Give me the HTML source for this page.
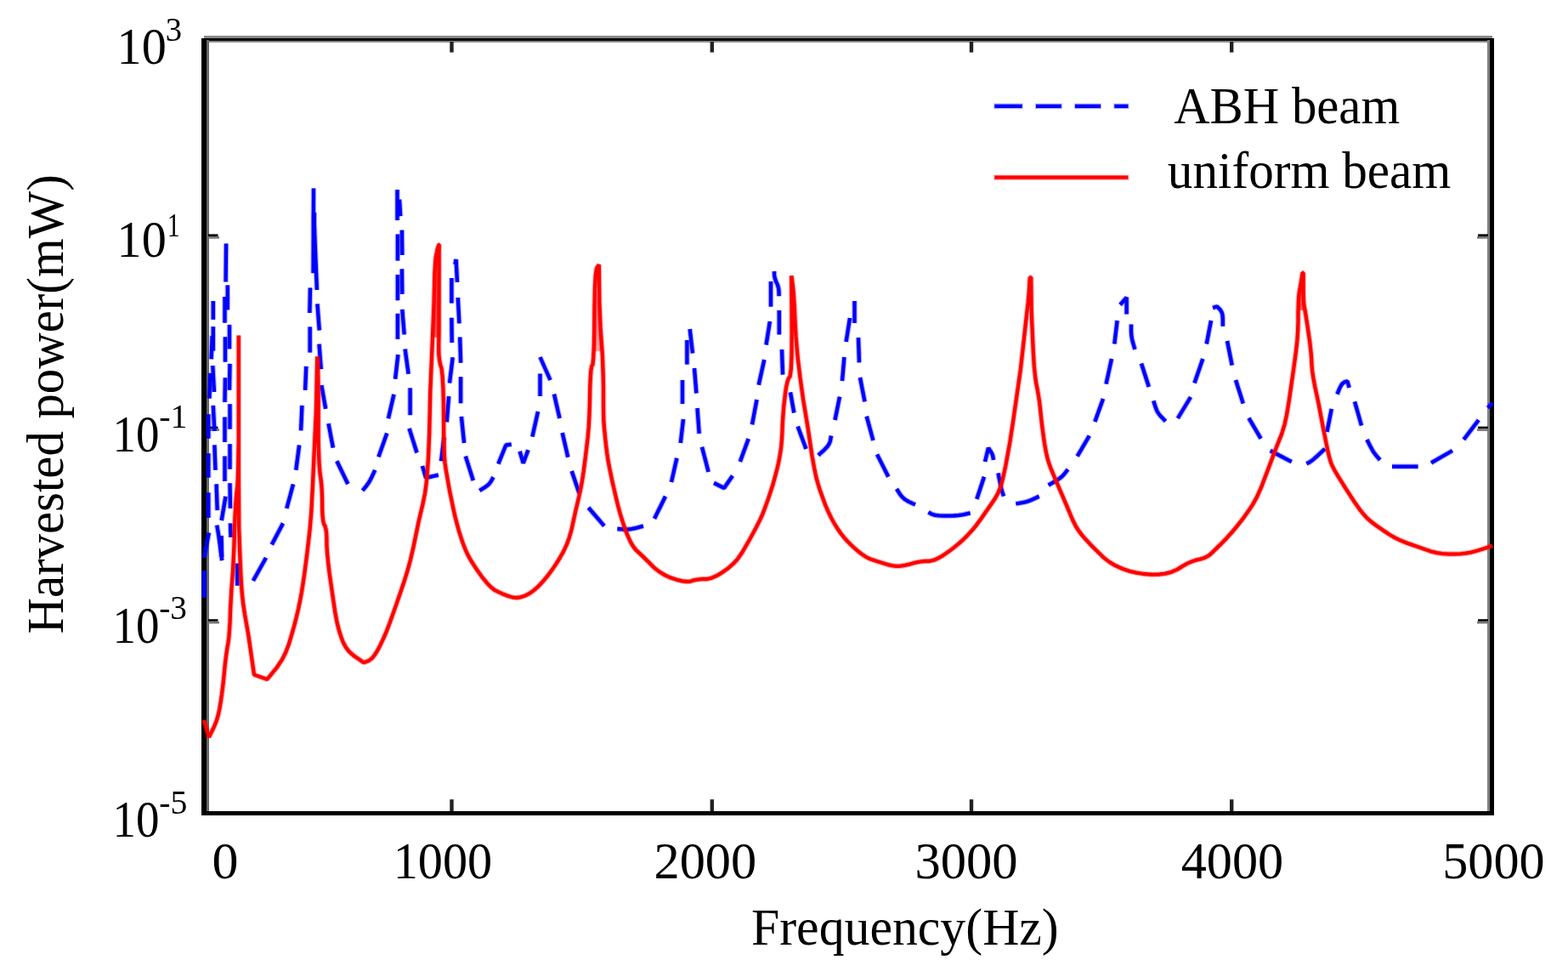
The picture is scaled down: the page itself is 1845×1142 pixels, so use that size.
<!DOCTYPE html>
<html lang="en">
<head>
<meta charset="utf-8">
<title>Harvested power vs frequency</title>
<style>
html,body{margin:0;padding:0;background:#fff;}
body{width:1845px;height:1142px;overflow:hidden;}
svg{display:block;}
</style>
</head>
<body>
<svg width="1845" height="1142" viewBox="0 0 1845 1142">
<rect x="0" y="0" width="1845" height="1142" fill="#fff"/>
<g shape-rendering="crispEdges">
<rect x="240" y="41.8" width="1516" height="8.1" fill="#8a8a8a"/>
<rect x="237.1" y="45.1" width="1521.1" height="2.4" fill="#000"/>
<rect x="1750.1" y="47" width="3" height="907" fill="#808080"/>
<rect x="1753" y="45.1" width="5.2" height="913.8" fill="#000"/>
<rect x="243" y="47" width="2.6" height="907" fill="#666"/>
<rect x="237.1" y="45.1" width="5.9" height="913.8" fill="#000"/>
<rect x="237.1" y="953.7" width="1521.1" height="5.2" fill="#000"/>
</g>
<rect x="529.3" y="940.2" width="4.4" height="14" fill="#222"/>
<rect x="529.3" y="49" width="4.4" height="12.6" fill="#222"/>
<rect x="835.6" y="940.2" width="4.4" height="14" fill="#222"/>
<rect x="835.6" y="49" width="4.4" height="12.6" fill="#222"/>
<rect x="1140.8" y="940.2" width="4.4" height="14" fill="#222"/>
<rect x="1140.8" y="49" width="4.4" height="12.6" fill="#222"/>
<rect x="1447.0" y="940.2" width="4.4" height="14" fill="#222"/>
<rect x="1447.0" y="49" width="4.4" height="12.6" fill="#222"/>
<rect x="245" y="275.4" width="11.5" height="2.6" fill="#000"/>
<rect x="245" y="278.0" width="13" height="2.7" fill="#777"/>
<rect x="1739" y="275.4" width="12" height="2.6" fill="#000"/>
<rect x="1738" y="278.0" width="13" height="2.7" fill="#777"/>
<rect x="245" y="501.6" width="11.5" height="2.6" fill="#000"/>
<rect x="245" y="504.2" width="13" height="2.7" fill="#777"/>
<rect x="1739" y="501.6" width="12" height="2.6" fill="#000"/>
<rect x="1738" y="504.2" width="13" height="2.7" fill="#777"/>
<rect x="245" y="728.2" width="11.5" height="2.6" fill="#000"/>
<rect x="245" y="730.8" width="13" height="2.7" fill="#777"/>
<rect x="1739" y="728.2" width="12" height="2.6" fill="#000"/>
<rect x="1738" y="730.8" width="13" height="2.7" fill="#777"/>
<g fill="none" stroke="#0000ff" stroke-opacity="0.3" stroke-width="6.6" stroke-linejoin="bevel">
<polyline points="240.3,703.0 240.3,671.0"/>
<polyline points="240.4,656.0 241.6,648.5 243.0,641.1 245.9,626.5"/>
<polyline points="245.3,609.0 245.3,579.4"/>
<polyline points="245.3,561.7 245.3,533.2"/>
<polyline points="245.3,515.7 245.3,487.2"/>
<polyline points="246.4,468.6 247.5,438.8"/>
<polyline points="248.6,422.4 249.7,395.0"/>
<polyline points="250.8,375.9 250.8,354.0"/>
<polyline points="250.8,384.1 250.8,412.6"/>
<polyline points="250.3,430.0 252.0,461.0"/>
<polyline points="250.8,476.8 252.4,507.0"/>
<polyline points="252.4,523.3 253.5,552.9"/>
<polyline points="254.6,569.3 255.7,600.2"/>
<polyline points="255.2,617.7 256.4,624.5 257.2,629.3 258.3,637.1 261.2,659.3"/>
<polyline points="261.0,655.0 260.5,630.0"/>
<polyline points="260.7,612.2 265.5,583.8"/>
<polyline points="264.5,566.0 264.5,536.5"/>
<polyline points="264.5,520.0 264.5,490.5"/>
<polyline points="264.5,473.0 265.0,444.3"/>
<polyline points="265.0,425.7 265.0,396.2"/>
<polyline points="264.5,379.7 264.5,349.0"/>
<polyline points="265.6,331.6 266.1,286.5"/>
<polyline points="267.8,335.4 267.8,364.4"/>
<polyline points="270.0,381.9 270.0,410.4"/>
<polyline points="270.5,427.9 270.0,458.8"/>
<polyline points="270.5,475.2 270.5,504.7"/>
<polyline points="270.5,522.2 270.5,551.8"/>
<polyline points="270.5,568.2 271.0,598.0"/>
<polyline points="271.0,615.5 271.6,632.0"/>
<polyline points="279.3,662.6 279.3,688.8"/>
<polyline points="297.9,683.0 313.0,656.0"/>
<polyline points="319.8,640.6 333.0,615.4"/>
<polyline points="337.3,598.0 345.0,569.5"/>
<polyline points="348.3,552.9 352.1,523.5"/>
<polyline points="354.1,506.3 355.4,476.8"/>
<polyline points="359.1,458.8 360.3,430.9"/>
<polyline points="364.7,414.6 364.7,384.4"/>
<polyline points="364.4,368.0 365.0,338.5"/>
<polyline points="368.6,321.3 369.0,221.5"/>
<polyline points="369.8,250.0 369.8,261.8 370.6,284.5 372.9,341.0"/>
<polyline points="373.4,357.4 375.8,388.5"/>
<polyline points="375.5,404.7 377.8,434.2"/>
<polyline points="378.3,453.0 383.2,480.9"/>
<polyline points="386.5,498.1 391.9,526.7"/>
<polyline points="396.3,542.3 409.4,569.3"/>
<polyline points="426.6,577.0 431.2,571.3 433.7,567.8 435.5,564.8 437.6,560.7 441.3,552.9"/>
<polyline points="445.4,537.4 455.3,509.5"/>
<polyline points="456.9,492.3 463.5,463.7"/>
<polyline points="465.1,445.7 468.4,417.0"/>
<polyline points="467.9,399.0 467.9,368.8"/>
<polyline points="467.9,353.3 467.9,323.0"/>
<polyline points="467.9,306.6 467.9,275.5"/>
<polyline points="467.5,259.1 467.5,223.1"/>
<polyline points="470.0,234.6 471.2,254.2"/>
<polyline points="472.9,270.6 473.3,300.0"/>
<polyline points="472.9,316.4 473.3,345.9"/>
<polyline points="473.3,363.9 475.7,393.4"/>
<polyline points="476.6,410.5 480.6,439.9"/>
<polyline points="482.6,456.3 482.6,488.2"/>
<polyline points="481.5,503.8 490.5,532.5"/>
<polyline points="497.0,548.0 501.1,561.9 515.9,558.7"/>
<polyline points="519.1,542.3 522.4,514.4"/>
<polyline points="525.7,496.4 528.1,466.1"/>
<polyline points="529.0,450.6 532.7,420.3"/>
<polyline points="531.7,403.1 531.4,373.7"/>
<polyline points="531.4,356.6 531.4,327.0"/>
<polyline points="535.5,311.0 536.6,305.0 538.0,332.0"/>
<polyline points="538.8,350.0 540.4,380.3"/>
<polyline points="541.2,396.5 542.1,426.8"/>
<polyline points="542.1,443.2 542.1,474.3"/>
<polyline points="542.9,489.9 546.1,521.0"/>
<polyline points="547.8,536.6 556.8,565.2"/>
<polyline points="564.2,577.0 570.6,573.1 573.8,570.8 575.8,568.8 577.7,566.2 580.5,561.1"/>
<polyline points="586.3,545.6 595.3,523.5 601.8,522.6"/>
<polyline points="611.6,530.8 615.7,544.7 621.5,529.2"/>
<polyline points="626.4,513.6 633.0,484.0"/>
<polyline points="635.5,466.0 635.5,439.5"/>
<polyline points="635.5,420.0 647.5,447.0"/>
<polyline points="652.0,463.6 658.5,492.0"/>
<polyline points="661.7,509.0 668.3,537.7"/>
<polyline points="672.7,554.0 681.5,580.0"/>
<polyline points="692.4,597.0 711.0,618.7"/>
<polyline points="726.3,622.0 734.6,622.6 739.2,622.5 743.1,622.1 748.0,621.1 757.0,618.7"/>
<polyline points="770.0,610.0 783.0,583.7"/>
<polyline points="790.0,567.0 796.4,538.8"/>
<polyline points="800.8,521.0 804.0,493.0"/>
<polyline points="803.0,475.0 803.0,447.0"/>
<polyline points="808.4,428.6 808.4,400.0"/>
<polyline points="811.7,387.0 815.0,415.4"/>
<polyline points="817.0,433.0 819.4,462.5"/>
<polyline points="820.5,480.0 822.7,510.0"/>
<polyline points="826.0,525.7 833.6,555.0"/>
<polyline points="840.0,568.0 852.0,574.0 862.0,559.6"/>
<polyline points="870.8,543.0 880.7,516.0"/>
<polyline points="885.0,499.4 890.5,470.0"/>
<polyline points="892.7,452.7 899.3,423.0"/>
<polyline points="901.5,405.6 905.9,378.0"/>
<polyline points="907.0,360.7 907.0,331.0"/>
<polyline points="911.0,319.1 911.1,323.5 911.5,326.2 912.2,328.6 913.1,331.1 914.5,333.9 915.4,336.6 916.1,339.2 916.5,342.5 916.6,348.3"/>
<polyline points="916.8,365.0 916.8,393.5"/>
<polyline points="920.0,411.0 921.0,440.6"/>
<polyline points="930.0,461.4 934.3,485.5"/>
<polyline points="938.7,501.6 948.5,528.0"/>
<polyline points="962.8,535.5 970.2,528.8 973.7,525.1 975.5,522.2 976.9,518.7 978.0,512.5"/>
<polyline points="982.5,494.0 988.0,466.6"/>
<polyline points="991.0,448.0 993.4,420.0"/>
<polyline points="995.6,402.0 1000.0,374.0"/>
<polyline points="1005.5,380.0 1005.5,354.0"/>
<polyline points="1010.0,397.0 1011.0,426.4"/>
<polyline points="1012.0,444.0 1017.5,472.4"/>
<polyline points="1019.7,489.6 1027.4,518.0"/>
<polyline points="1032.0,534.4 1045.3,560.7"/>
<polyline points="1055.0,575.0 1059.4,581.8 1062.2,585.2 1065.0,587.5 1069.0,589.9 1077.0,593.6"/>
<polyline points="1092.4,602.3 1096.7,604.8 1100.2,605.9 1104.5,606.4 1109.9,606.7 1116.4,606.7 1122.3,606.5 1127.5,606.1 1133.0,605.3 1141.7,603.4"/>
<polyline points="1149.3,587.0 1158.0,560.7"/>
<polyline points="1159.0,543.0 1163.0,526.8 1165.8,531.1 1167.1,533.4 1167.9,535.2 1168.4,537.3 1169.0,541.0"/>
<polyline points="1174.5,556.3 1176.4,566.1 1177.4,571.1 1178.2,574.6 1179.2,578.1 1181.0,583.7"/>
<polyline points="1195.3,592.5 1203.3,591.1 1207.7,590.1 1211.1,589.0 1215.3,587.2 1222.7,583.7"/>
<polyline points="1233.6,570.6 1242.3,565.6 1246.6,562.8 1249.5,560.5 1252.3,557.5 1256.6,552.0"/>
<polyline points="1267.6,536.6 1281.8,512.5"/>
<polyline points="1288.3,496.0 1298.0,469.0"/>
<polyline points="1301.5,451.6 1308.0,422.0"/>
<polyline points="1311.3,404.5 1314.6,377.0"/>
<polyline points="1318.0,358.5 1325.6,349.8 1325.6,369.5"/>
<polyline points="1331.0,381.5 1331.0,389.5 1331.3,394.0 1331.8,397.7 1332.9,402.4 1335.4,411.0"/>
<polyline points="1343.0,427.5 1351.8,455.0"/>
<polyline points="1357.3,471.3 1359.8,479.3 1361.5,483.5 1363.3,486.5 1366.0,489.8 1371.5,495.4"/>
<polyline points="1385.8,492.0 1401.0,467.0"/>
<polyline points="1405.5,450.5 1415.3,422.0"/>
<polyline points="1419.7,404.5 1425.0,377.0"/>
<polyline points="1427.0,362.0 1432.0,360.5 1435.8,364.3 1437.5,367.1 1438.4,369.9 1438.8,374.5 1438.8,383.7"/>
<polyline points="1444.0,401.0 1449.7,429.7"/>
<polyline points="1454.0,447.0 1462.8,474.6"/>
<polyline points="1469.4,491.7 1483.6,515.8"/>
<polyline points="1494.6,530.0 1519.8,543.2"/>
<polyline points="1537.3,545.4 1541.0,543.5 1543.5,541.8 1546.2,539.6 1550.4,535.8 1559.0,527.9"/>
<polyline points="1561.4,508.0 1566.8,480.8"/>
<polyline points="1573.4,463.6 1576.5,456.2 1578.3,452.8 1579.8,450.9 1581.8,449.5 1585.4,448.3 1587.6,456.0"/>
<polyline points="1594.0,472.4 1602.0,500.5"/>
<polyline points="1608.4,517.0 1612.7,525.4 1615.1,529.8 1617.0,532.8 1619.4,535.9 1623.8,541.0"/>
<polyline points="1638.0,548.7 1668.6,548.7"/>
<polyline points="1684.0,544.3 1709.0,530.0"/>
<polyline points="1722.3,517.0 1739.8,494.0"/>
<polyline points="1750.7,479.7 1756.0,474.0"/>
</g>
<g fill="none" stroke="#0000ff" stroke-width="4.3" stroke-linejoin="bevel">
<polyline points="240.3,703.0 240.3,671.0"/>
<polyline points="240.4,656.0 241.6,648.5 243.0,641.1 245.9,626.5"/>
<polyline points="245.3,609.0 245.3,579.4"/>
<polyline points="245.3,561.7 245.3,533.2"/>
<polyline points="245.3,515.7 245.3,487.2"/>
<polyline points="246.4,468.6 247.5,438.8"/>
<polyline points="248.6,422.4 249.7,395.0"/>
<polyline points="250.8,375.9 250.8,354.0"/>
<polyline points="250.8,384.1 250.8,412.6"/>
<polyline points="250.3,430.0 252.0,461.0"/>
<polyline points="250.8,476.8 252.4,507.0"/>
<polyline points="252.4,523.3 253.5,552.9"/>
<polyline points="254.6,569.3 255.7,600.2"/>
<polyline points="255.2,617.7 256.4,624.5 257.2,629.3 258.3,637.1 261.2,659.3"/>
<polyline points="261.0,655.0 260.5,630.0"/>
<polyline points="260.7,612.2 265.5,583.8"/>
<polyline points="264.5,566.0 264.5,536.5"/>
<polyline points="264.5,520.0 264.5,490.5"/>
<polyline points="264.5,473.0 265.0,444.3"/>
<polyline points="265.0,425.7 265.0,396.2"/>
<polyline points="264.5,379.7 264.5,349.0"/>
<polyline points="265.6,331.6 266.1,286.5"/>
<polyline points="267.8,335.4 267.8,364.4"/>
<polyline points="270.0,381.9 270.0,410.4"/>
<polyline points="270.5,427.9 270.0,458.8"/>
<polyline points="270.5,475.2 270.5,504.7"/>
<polyline points="270.5,522.2 270.5,551.8"/>
<polyline points="270.5,568.2 271.0,598.0"/>
<polyline points="271.0,615.5 271.6,632.0"/>
<polyline points="279.3,662.6 279.3,688.8"/>
<polyline points="297.9,683.0 313.0,656.0"/>
<polyline points="319.8,640.6 333.0,615.4"/>
<polyline points="337.3,598.0 345.0,569.5"/>
<polyline points="348.3,552.9 352.1,523.5"/>
<polyline points="354.1,506.3 355.4,476.8"/>
<polyline points="359.1,458.8 360.3,430.9"/>
<polyline points="364.7,414.6 364.7,384.4"/>
<polyline points="364.4,368.0 365.0,338.5"/>
<polyline points="368.6,321.3 369.0,221.5"/>
<polyline points="369.8,250.0 369.8,261.8 370.6,284.5 372.9,341.0"/>
<polyline points="373.4,357.4 375.8,388.5"/>
<polyline points="375.5,404.7 377.8,434.2"/>
<polyline points="378.3,453.0 383.2,480.9"/>
<polyline points="386.5,498.1 391.9,526.7"/>
<polyline points="396.3,542.3 409.4,569.3"/>
<polyline points="426.6,577.0 431.2,571.3 433.7,567.8 435.5,564.8 437.6,560.7 441.3,552.9"/>
<polyline points="445.4,537.4 455.3,509.5"/>
<polyline points="456.9,492.3 463.5,463.7"/>
<polyline points="465.1,445.7 468.4,417.0"/>
<polyline points="467.9,399.0 467.9,368.8"/>
<polyline points="467.9,353.3 467.9,323.0"/>
<polyline points="467.9,306.6 467.9,275.5"/>
<polyline points="467.5,259.1 467.5,223.1"/>
<polyline points="470.0,234.6 471.2,254.2"/>
<polyline points="472.9,270.6 473.3,300.0"/>
<polyline points="472.9,316.4 473.3,345.9"/>
<polyline points="473.3,363.9 475.7,393.4"/>
<polyline points="476.6,410.5 480.6,439.9"/>
<polyline points="482.6,456.3 482.6,488.2"/>
<polyline points="481.5,503.8 490.5,532.5"/>
<polyline points="497.0,548.0 501.1,561.9 515.9,558.7"/>
<polyline points="519.1,542.3 522.4,514.4"/>
<polyline points="525.7,496.4 528.1,466.1"/>
<polyline points="529.0,450.6 532.7,420.3"/>
<polyline points="531.7,403.1 531.4,373.7"/>
<polyline points="531.4,356.6 531.4,327.0"/>
<polyline points="535.5,311.0 536.6,305.0 538.0,332.0"/>
<polyline points="538.8,350.0 540.4,380.3"/>
<polyline points="541.2,396.5 542.1,426.8"/>
<polyline points="542.1,443.2 542.1,474.3"/>
<polyline points="542.9,489.9 546.1,521.0"/>
<polyline points="547.8,536.6 556.8,565.2"/>
<polyline points="564.2,577.0 570.6,573.1 573.8,570.8 575.8,568.8 577.7,566.2 580.5,561.1"/>
<polyline points="586.3,545.6 595.3,523.5 601.8,522.6"/>
<polyline points="611.6,530.8 615.7,544.7 621.5,529.2"/>
<polyline points="626.4,513.6 633.0,484.0"/>
<polyline points="635.5,466.0 635.5,439.5"/>
<polyline points="635.5,420.0 647.5,447.0"/>
<polyline points="652.0,463.6 658.5,492.0"/>
<polyline points="661.7,509.0 668.3,537.7"/>
<polyline points="672.7,554.0 681.5,580.0"/>
<polyline points="692.4,597.0 711.0,618.7"/>
<polyline points="726.3,622.0 734.6,622.6 739.2,622.5 743.1,622.1 748.0,621.1 757.0,618.7"/>
<polyline points="770.0,610.0 783.0,583.7"/>
<polyline points="790.0,567.0 796.4,538.8"/>
<polyline points="800.8,521.0 804.0,493.0"/>
<polyline points="803.0,475.0 803.0,447.0"/>
<polyline points="808.4,428.6 808.4,400.0"/>
<polyline points="811.7,387.0 815.0,415.4"/>
<polyline points="817.0,433.0 819.4,462.5"/>
<polyline points="820.5,480.0 822.7,510.0"/>
<polyline points="826.0,525.7 833.6,555.0"/>
<polyline points="840.0,568.0 852.0,574.0 862.0,559.6"/>
<polyline points="870.8,543.0 880.7,516.0"/>
<polyline points="885.0,499.4 890.5,470.0"/>
<polyline points="892.7,452.7 899.3,423.0"/>
<polyline points="901.5,405.6 905.9,378.0"/>
<polyline points="907.0,360.7 907.0,331.0"/>
<polyline points="911.0,319.1 911.1,323.5 911.5,326.2 912.2,328.6 913.1,331.1 914.5,333.9 915.4,336.6 916.1,339.2 916.5,342.5 916.6,348.3"/>
<polyline points="916.8,365.0 916.8,393.5"/>
<polyline points="920.0,411.0 921.0,440.6"/>
<polyline points="930.0,461.4 934.3,485.5"/>
<polyline points="938.7,501.6 948.5,528.0"/>
<polyline points="962.8,535.5 970.2,528.8 973.7,525.1 975.5,522.2 976.9,518.7 978.0,512.5"/>
<polyline points="982.5,494.0 988.0,466.6"/>
<polyline points="991.0,448.0 993.4,420.0"/>
<polyline points="995.6,402.0 1000.0,374.0"/>
<polyline points="1005.5,380.0 1005.5,354.0"/>
<polyline points="1010.0,397.0 1011.0,426.4"/>
<polyline points="1012.0,444.0 1017.5,472.4"/>
<polyline points="1019.7,489.6 1027.4,518.0"/>
<polyline points="1032.0,534.4 1045.3,560.7"/>
<polyline points="1055.0,575.0 1059.4,581.8 1062.2,585.2 1065.0,587.5 1069.0,589.9 1077.0,593.6"/>
<polyline points="1092.4,602.3 1096.7,604.8 1100.2,605.9 1104.5,606.4 1109.9,606.7 1116.4,606.7 1122.3,606.5 1127.5,606.1 1133.0,605.3 1141.7,603.4"/>
<polyline points="1149.3,587.0 1158.0,560.7"/>
<polyline points="1159.0,543.0 1163.0,526.8 1165.8,531.1 1167.1,533.4 1167.9,535.2 1168.4,537.3 1169.0,541.0"/>
<polyline points="1174.5,556.3 1176.4,566.1 1177.4,571.1 1178.2,574.6 1179.2,578.1 1181.0,583.7"/>
<polyline points="1195.3,592.5 1203.3,591.1 1207.7,590.1 1211.1,589.0 1215.3,587.2 1222.7,583.7"/>
<polyline points="1233.6,570.6 1242.3,565.6 1246.6,562.8 1249.5,560.5 1252.3,557.5 1256.6,552.0"/>
<polyline points="1267.6,536.6 1281.8,512.5"/>
<polyline points="1288.3,496.0 1298.0,469.0"/>
<polyline points="1301.5,451.6 1308.0,422.0"/>
<polyline points="1311.3,404.5 1314.6,377.0"/>
<polyline points="1318.0,358.5 1325.6,349.8 1325.6,369.5"/>
<polyline points="1331.0,381.5 1331.0,389.5 1331.3,394.0 1331.8,397.7 1332.9,402.4 1335.4,411.0"/>
<polyline points="1343.0,427.5 1351.8,455.0"/>
<polyline points="1357.3,471.3 1359.8,479.3 1361.5,483.5 1363.3,486.5 1366.0,489.8 1371.5,495.4"/>
<polyline points="1385.8,492.0 1401.0,467.0"/>
<polyline points="1405.5,450.5 1415.3,422.0"/>
<polyline points="1419.7,404.5 1425.0,377.0"/>
<polyline points="1427.0,362.0 1432.0,360.5 1435.8,364.3 1437.5,367.1 1438.4,369.9 1438.8,374.5 1438.8,383.7"/>
<polyline points="1444.0,401.0 1449.7,429.7"/>
<polyline points="1454.0,447.0 1462.8,474.6"/>
<polyline points="1469.4,491.7 1483.6,515.8"/>
<polyline points="1494.6,530.0 1519.8,543.2"/>
<polyline points="1537.3,545.4 1541.0,543.5 1543.5,541.8 1546.2,539.6 1550.4,535.8 1559.0,527.9"/>
<polyline points="1561.4,508.0 1566.8,480.8"/>
<polyline points="1573.4,463.6 1576.5,456.2 1578.3,452.8 1579.8,450.9 1581.8,449.5 1585.4,448.3 1587.6,456.0"/>
<polyline points="1594.0,472.4 1602.0,500.5"/>
<polyline points="1608.4,517.0 1612.7,525.4 1615.1,529.8 1617.0,532.8 1619.4,535.9 1623.8,541.0"/>
<polyline points="1638.0,548.7 1668.6,548.7"/>
<polyline points="1684.0,544.3 1709.0,530.0"/>
<polyline points="1722.3,517.0 1739.8,494.0"/>
<polyline points="1750.7,479.7 1756.0,474.0"/>
</g>
<polygon fill="#ff0000" fill-opacity="0.6" points="509.0,397.0 510.6,357.4 511.8,308.2 514.3,294.0 516.4,287.8 516.7,287.8 516.5,390.0 516.3,397.0"/>
<polygon fill="#ff0000" fill-opacity="0.35" points="699.5,413.0 699.8,319.0 704.8,311.3 705.5,369.5 708.5,413.0"/>
<polygon fill="#ff0000" fill-opacity="0.6" points="1527.6,365.0 1527.6,350.0 1530.6,334.0 1532.6,320.9 1533.6,320.9 1533.6,355.7 1535.5,365.0"/>
<polyline fill="none" stroke="#ff0000" stroke-opacity="0.3" stroke-width="6.6" stroke-linejoin="bevel" points="240.0,847.0 245.8,867.0 251.7,855.2 254.7,847.9 256.7,841.1 258.3,833.6 259.7,825.4 261.0,816.5 262.8,802.1 264.9,780.4 266.5,768.1 267.5,761.3 268.5,755.8 269.4,749.0 270.0,740.8 270.6,731.2 271.2,714.8 272.4,692.8 274.1,671.0 275.4,642.8 276.5,608.2 277.6,589.5 278.4,579.4 279.4,571.6 280.1,555.5 280.8,518.6 280.8,394.6 280.8,556.1 281.2,621.8 282.5,657.0 283.7,683.3 284.8,697.8 286.0,709.1 288.1,723.0 292.4,747.6 299.0,793.5 314.3,799.0 325.9,784.8 331.9,775.8 336.2,767.2 339.9,757.4 343.2,746.4 346.2,735.9 348.8,725.8 351.1,716.0 353.0,706.8 354.8,697.1 356.4,687.2 358.3,674.3 361.4,650.5 364.6,622.4 366.3,602.1 368.0,569.5 370.0,525.7 372.0,482.0 373.3,419.2 374.0,430.9 374.3,442.7 374.6,466.4 374.6,519.2 375.5,544.1 376.4,555.9 377.4,562.7 378.3,570.4 378.8,578.8 379.1,588.0 379.2,598.0 379.5,606.1 380.2,612.2 381.1,616.4 382.4,618.6 383.4,622.1 384.1,626.8 384.4,632.7 384.4,639.8 384.9,649.0 386.0,660.3 387.6,673.8 390.9,697.0 394.2,719.4 396.1,729.7 397.6,736.4 399.4,743.0 401.5,749.4 403.8,755.6 406.9,761.2 410.6,766.1 416.4,771.3 428.0,779.3 434.2,776.9 437.8,774.1 441.0,770.1 444.4,764.7 447.9,757.9 451.4,750.4 454.9,742.3 459.1,731.3 466.5,710.4 475.1,685.3 479.6,670.9 482.9,658.7 486.6,642.7 492.7,613.0 497.6,592.2 500.1,579.8 501.6,568.9 502.7,557.1 504.0,538.3 505.2,509.3 506.3,460.0 509.0,397.0 510.6,357.4 511.5,320.5 512.2,308.6 512.7,302.9 513.4,299.3 514.0,296.3 514.5,293.7 515.2,291.3 516.4,287.8 516.7,287.8 516.6,300.0 516.5,390.0 516.2,408.4 516.4,417.6 517.1,423.7 518.1,428.9 519.5,432.9 520.6,442.2 521.4,456.5 521.9,476.0 522.2,512.8 522.8,534.3 523.5,544.5 524.9,553.7 529.0,577.0 533.2,597.2 535.6,608.0 537.7,616.1 539.8,623.8 542.0,630.9 544.2,637.5 546.4,643.3 548.6,648.6 550.7,653.1 553.7,658.5 557.6,664.7 562.2,671.6 567.8,679.4 573.0,685.7 577.9,690.7 582.5,694.3 586.9,696.4 591.2,698.4 595.4,700.1 599.6,701.5 603.8,702.7 608.1,703.0 612.7,702.3 617.5,700.8 622.5,698.2 627.6,694.7 632.9,690.2 638.2,684.6 643.8,677.9 649.0,671.0 653.9,663.9 658.5,656.5 662.9,648.8 666.6,640.9 669.7,632.7 672.7,622.0 677.0,602.3 681.3,583.9 683.5,573.6 685.0,565.4 686.6,555.1 689.0,536.6 691.5,515.7 692.7,502.2 693.4,489.3 693.9,474.5 694.2,457.9 694.7,445.0 695.4,435.9 696.2,430.5 697.4,428.9 698.2,420.9 698.9,406.7 699.3,386.1 699.5,359.3 700.0,338.7 700.7,324.3 702.0,315.6 704.8,311.3 705.3,354.9 706.6,385.9 708.9,418.6 709.7,441.2 710.0,455.6 710.0,476.2 710.2,489.1 710.4,496.0 711.0,503.8 712.9,522.2 714.2,532.8 715.5,541.5 717.2,550.5 720.1,564.5 724.2,582.6 727.4,595.7 729.8,604.4 732.4,612.9 735.2,621.2 738.3,629.4 741.4,636.4 744.7,642.1 748.1,646.6 753.5,651.6 762.2,660.1 770.0,667.9 775.7,672.4 782.0,676.2 788.9,679.4 796.2,681.8 802.6,683.4 807.9,684.0 812.2,683.8 815.5,682.7 819.2,681.8 823.1,681.3 827.4,681.0 832.1,681.0 837.2,679.8 843.0,677.3 849.3,673.6 856.2,668.8 862.3,663.4 867.7,657.7 873.2,649.8 881.8,635.0 889.8,620.3 894.0,611.9 897.2,604.8 900.1,597.4 904.2,585.9 909.2,570.6 912.4,559.1 914.3,551.7 916.0,544.6 917.3,537.7 918.4,531.2 919.3,524.3 919.9,517.1 920.4,509.6 920.6,501.7 921.1,493.2 922.1,479.5 923.9,463.8 925.1,455.3 926.5,449.0 928.0,444.8 929.6,442.7 930.8,433.9 931.5,418.4 931.7,389.1 931.3,324.3 933.0,337.4 933.9,346.6 934.8,361.2 935.7,381.6 936.5,395.2 937.6,408.9 938.9,422.6 941.4,443.2 944.9,468.7 950.7,503.8 955.6,536.6 957.9,549.4 959.4,556.6 960.7,562.7 962.6,569.4 964.9,576.8 967.8,584.8 971.0,593.6 974.5,601.6 978.0,609.0 981.7,615.7 985.5,621.8 989.3,627.2 993.1,632.1 997.0,636.5 1000.8,640.3 1004.5,643.8 1008.1,646.9 1011.5,649.8 1014.8,652.2 1017.9,654.3 1020.8,656.0 1024.2,657.5 1030.0,659.5 1041.1,663.0 1046.8,664.6 1050.9,665.4 1054.6,665.8 1057.9,665.8 1061.6,665.4 1065.7,664.7 1070.2,663.6 1075.1,662.2 1079.9,661.1 1084.5,660.4 1089.1,660.0 1093.4,660.0 1098.4,658.9 1103.8,656.6 1109.9,653.1 1116.4,648.6 1122.6,643.9 1128.3,639.2 1133.7,634.3 1138.6,629.4 1143.3,624.3 1147.7,619.1 1152.7,612.4 1161.4,600.0 1170.0,587.6 1174.2,580.2 1177.0,573.7 1179.6,564.7 1183.3,547.6 1188.2,520.9 1192.5,492.8 1200.8,435.0 1207.5,375.0 1209.7,355.5 1210.8,343.3 1211.8,326.3 1213.2,326.3 1213.7,365.0 1214.3,380.4 1215.8,413.6 1216.8,430.2 1217.9,441.1 1219.1,450.2 1220.6,457.3 1221.8,464.6 1223.0,472.1 1224.1,481.7 1226.0,499.4 1229.0,521.6 1231.1,533.0 1233.1,541.2 1236.2,550.3 1242.4,565.0 1255.5,595.7 1261.7,610.5 1265.5,618.3 1269.1,624.0 1273.1,629.4 1277.4,634.3 1282.2,639.4 1287.4,644.8 1293.0,650.3 1299.0,656.1 1305.6,661.1 1312.7,665.3 1320.4,668.8 1328.6,671.6 1337.0,673.6 1345.5,675.0 1354.1,675.7 1362.9,675.7 1370.9,674.7 1378.3,672.8 1385.0,669.9 1391.0,666.1 1396.7,662.9 1402.2,660.5 1407.4,658.7 1412.3,657.6 1416.7,656.2 1420.4,654.5 1423.6,652.4 1426.1,650.1 1429.4,646.9 1435.5,640.9 1443.8,632.4 1449.5,626.0 1455.5,618.8 1461.8,610.9 1468.2,602.1 1474.0,593.4 1478.9,584.6 1483.8,573.7 1491.3,554.0 1502.0,525.7 1508.2,510.1 1511.5,499.3 1514.0,487.9 1516.9,470.4 1522.0,435.0 1525.0,412.9 1526.4,400.2 1527.1,389.6 1527.5,378.6 1527.5,367.1 1527.8,357.6 1528.1,349.9 1528.9,343.0 1530.6,334.0 1532.6,320.9 1533.6,320.9 1533.6,340.5 1533.8,350.0 1534.1,356.1 1534.7,360.9 1535.4,364.3 1536.3,369.6 1538.0,380.4 1541.2,402.1 1542.6,415.2 1543.2,422.9 1543.5,429.6 1544.2,436.7 1545.3,444.4 1547.3,454.9 1551.5,474.6 1557.0,503.8 1560.7,522.2 1562.6,531.3 1564.0,537.0 1565.2,541.5 1566.3,544.9 1568.1,548.8 1570.5,553.5 1574.6,560.3 1583.0,573.8 1594.2,591.1 1600.2,599.6 1604.6,605.0 1608.6,609.4 1612.4,612.7 1616.8,616.2 1622.1,620.0 1628.0,624.1 1634.6,628.5 1641.2,632.3 1647.8,635.6 1656.1,638.9 1670.8,644.0 1683.1,648.3 1690.5,650.2 1697.1,651.1 1704.2,651.6 1711.9,651.6 1718.7,651.3 1724.8,650.7 1730.0,649.9 1734.4,648.7 1738.6,647.5 1742.7,646.3 1747.6,644.7 1756.0,641.7"/>
<polyline fill="none" stroke="#ff0000" stroke-width="4.3" stroke-linejoin="bevel" points="240.0,847.0 245.8,867.0 251.7,855.2 254.7,847.9 256.7,841.1 258.3,833.6 259.7,825.4 261.0,816.5 262.8,802.1 264.9,780.4 266.5,768.1 267.5,761.3 268.5,755.8 269.4,749.0 270.0,740.8 270.6,731.2 271.2,714.8 272.4,692.8 274.1,671.0 275.4,642.8 276.5,608.2 277.6,589.5 278.4,579.4 279.4,571.6 280.1,555.5 280.8,518.6 280.8,394.6 280.8,556.1 281.2,621.8 282.5,657.0 283.7,683.3 284.8,697.8 286.0,709.1 288.1,723.0 292.4,747.6 299.0,793.5 314.3,799.0 325.9,784.8 331.9,775.8 336.2,767.2 339.9,757.4 343.2,746.4 346.2,735.9 348.8,725.8 351.1,716.0 353.0,706.8 354.8,697.1 356.4,687.2 358.3,674.3 361.4,650.5 364.6,622.4 366.3,602.1 368.0,569.5 370.0,525.7 372.0,482.0 373.3,419.2 374.0,430.9 374.3,442.7 374.6,466.4 374.6,519.2 375.5,544.1 376.4,555.9 377.4,562.7 378.3,570.4 378.8,578.8 379.1,588.0 379.2,598.0 379.5,606.1 380.2,612.2 381.1,616.4 382.4,618.6 383.4,622.1 384.1,626.8 384.4,632.7 384.4,639.8 384.9,649.0 386.0,660.3 387.6,673.8 390.9,697.0 394.2,719.4 396.1,729.7 397.6,736.4 399.4,743.0 401.5,749.4 403.8,755.6 406.9,761.2 410.6,766.1 416.4,771.3 428.0,779.3 434.2,776.9 437.8,774.1 441.0,770.1 444.4,764.7 447.9,757.9 451.4,750.4 454.9,742.3 459.1,731.3 466.5,710.4 475.1,685.3 479.6,670.9 482.9,658.7 486.6,642.7 492.7,613.0 497.6,592.2 500.1,579.8 501.6,568.9 502.7,557.1 504.0,538.3 505.2,509.3 506.3,460.0 509.0,397.0 510.6,357.4 511.5,320.5 512.2,308.6 512.7,302.9 513.4,299.3 514.0,296.3 514.5,293.7 515.2,291.3 516.4,287.8 516.7,287.8 516.6,300.0 516.5,390.0 516.2,408.4 516.4,417.6 517.1,423.7 518.1,428.9 519.5,432.9 520.6,442.2 521.4,456.5 521.9,476.0 522.2,512.8 522.8,534.3 523.5,544.5 524.9,553.7 529.0,577.0 533.2,597.2 535.6,608.0 537.7,616.1 539.8,623.8 542.0,630.9 544.2,637.5 546.4,643.3 548.6,648.6 550.7,653.1 553.7,658.5 557.6,664.7 562.2,671.6 567.8,679.4 573.0,685.7 577.9,690.7 582.5,694.3 586.9,696.4 591.2,698.4 595.4,700.1 599.6,701.5 603.8,702.7 608.1,703.0 612.7,702.3 617.5,700.8 622.5,698.2 627.6,694.7 632.9,690.2 638.2,684.6 643.8,677.9 649.0,671.0 653.9,663.9 658.5,656.5 662.9,648.8 666.6,640.9 669.7,632.7 672.7,622.0 677.0,602.3 681.3,583.9 683.5,573.6 685.0,565.4 686.6,555.1 689.0,536.6 691.5,515.7 692.7,502.2 693.4,489.3 693.9,474.5 694.2,457.9 694.7,445.0 695.4,435.9 696.2,430.5 697.4,428.9 698.2,420.9 698.9,406.7 699.3,386.1 699.5,359.3 700.0,338.7 700.7,324.3 702.0,315.6 704.8,311.3 705.3,354.9 706.6,385.9 708.9,418.6 709.7,441.2 710.0,455.6 710.0,476.2 710.2,489.1 710.4,496.0 711.0,503.8 712.9,522.2 714.2,532.8 715.5,541.5 717.2,550.5 720.1,564.5 724.2,582.6 727.4,595.7 729.8,604.4 732.4,612.9 735.2,621.2 738.3,629.4 741.4,636.4 744.7,642.1 748.1,646.6 753.5,651.6 762.2,660.1 770.0,667.9 775.7,672.4 782.0,676.2 788.9,679.4 796.2,681.8 802.6,683.4 807.9,684.0 812.2,683.8 815.5,682.7 819.2,681.8 823.1,681.3 827.4,681.0 832.1,681.0 837.2,679.8 843.0,677.3 849.3,673.6 856.2,668.8 862.3,663.4 867.7,657.7 873.2,649.8 881.8,635.0 889.8,620.3 894.0,611.9 897.2,604.8 900.1,597.4 904.2,585.9 909.2,570.6 912.4,559.1 914.3,551.7 916.0,544.6 917.3,537.7 918.4,531.2 919.3,524.3 919.9,517.1 920.4,509.6 920.6,501.7 921.1,493.2 922.1,479.5 923.9,463.8 925.1,455.3 926.5,449.0 928.0,444.8 929.6,442.7 930.8,433.9 931.5,418.4 931.7,389.1 931.3,324.3 933.0,337.4 933.9,346.6 934.8,361.2 935.7,381.6 936.5,395.2 937.6,408.9 938.9,422.6 941.4,443.2 944.9,468.7 950.7,503.8 955.6,536.6 957.9,549.4 959.4,556.6 960.7,562.7 962.6,569.4 964.9,576.8 967.8,584.8 971.0,593.6 974.5,601.6 978.0,609.0 981.7,615.7 985.5,621.8 989.3,627.2 993.1,632.1 997.0,636.5 1000.8,640.3 1004.5,643.8 1008.1,646.9 1011.5,649.8 1014.8,652.2 1017.9,654.3 1020.8,656.0 1024.2,657.5 1030.0,659.5 1041.1,663.0 1046.8,664.6 1050.9,665.4 1054.6,665.8 1057.9,665.8 1061.6,665.4 1065.7,664.7 1070.2,663.6 1075.1,662.2 1079.9,661.1 1084.5,660.4 1089.1,660.0 1093.4,660.0 1098.4,658.9 1103.8,656.6 1109.9,653.1 1116.4,648.6 1122.6,643.9 1128.3,639.2 1133.7,634.3 1138.6,629.4 1143.3,624.3 1147.7,619.1 1152.7,612.4 1161.4,600.0 1170.0,587.6 1174.2,580.2 1177.0,573.7 1179.6,564.7 1183.3,547.6 1188.2,520.9 1192.5,492.8 1200.8,435.0 1207.5,375.0 1209.7,355.5 1210.8,343.3 1211.8,326.3 1213.2,326.3 1213.7,365.0 1214.3,380.4 1215.8,413.6 1216.8,430.2 1217.9,441.1 1219.1,450.2 1220.6,457.3 1221.8,464.6 1223.0,472.1 1224.1,481.7 1226.0,499.4 1229.0,521.6 1231.1,533.0 1233.1,541.2 1236.2,550.3 1242.4,565.0 1255.5,595.7 1261.7,610.5 1265.5,618.3 1269.1,624.0 1273.1,629.4 1277.4,634.3 1282.2,639.4 1287.4,644.8 1293.0,650.3 1299.0,656.1 1305.6,661.1 1312.7,665.3 1320.4,668.8 1328.6,671.6 1337.0,673.6 1345.5,675.0 1354.1,675.7 1362.9,675.7 1370.9,674.7 1378.3,672.8 1385.0,669.9 1391.0,666.1 1396.7,662.9 1402.2,660.5 1407.4,658.7 1412.3,657.6 1416.7,656.2 1420.4,654.5 1423.6,652.4 1426.1,650.1 1429.4,646.9 1435.5,640.9 1443.8,632.4 1449.5,626.0 1455.5,618.8 1461.8,610.9 1468.2,602.1 1474.0,593.4 1478.9,584.6 1483.8,573.7 1491.3,554.0 1502.0,525.7 1508.2,510.1 1511.5,499.3 1514.0,487.9 1516.9,470.4 1522.0,435.0 1525.0,412.9 1526.4,400.2 1527.1,389.6 1527.5,378.6 1527.5,367.1 1527.8,357.6 1528.1,349.9 1528.9,343.0 1530.6,334.0 1532.6,320.9 1533.6,320.9 1533.6,340.5 1533.8,350.0 1534.1,356.1 1534.7,360.9 1535.4,364.3 1536.3,369.6 1538.0,380.4 1541.2,402.1 1542.6,415.2 1543.2,422.9 1543.5,429.6 1544.2,436.7 1545.3,444.4 1547.3,454.9 1551.5,474.6 1557.0,503.8 1560.7,522.2 1562.6,531.3 1564.0,537.0 1565.2,541.5 1566.3,544.9 1568.1,548.8 1570.5,553.5 1574.6,560.3 1583.0,573.8 1594.2,591.1 1600.2,599.6 1604.6,605.0 1608.6,609.4 1612.4,612.7 1616.8,616.2 1622.1,620.0 1628.0,624.1 1634.6,628.5 1641.2,632.3 1647.8,635.6 1656.1,638.9 1670.8,644.0 1683.1,648.3 1690.5,650.2 1697.1,651.1 1704.2,651.6 1711.9,651.6 1718.7,651.3 1724.8,650.7 1730.0,649.9 1734.4,648.7 1738.6,647.5 1742.7,646.3 1747.6,644.7 1756.0,641.7"/>
<g font-family="'Liberation Serif', serif" fill="#000">
<text transform="translate(137.55,74.50) scale(0.9623,1)" font-size="60.5">10</text>
<text transform="translate(194.84,47.70) scale(0.9785,1)" font-size="39.5">3</text>
<text transform="translate(137.55,302.40) scale(0.9623,1)" font-size="60.5">10</text>
<text transform="translate(196.65,277.70) scale(0.7571,1)" font-size="39.5">1</text>
<text transform="translate(132.53,530.50) scale(0.9094,1)" font-size="60.5">10</text>
<text transform="translate(187.18,503.00) scale(1.0103,1)" font-size="39.5">-1</text>
<text transform="translate(132.53,755.50) scale(0.9094,1)" font-size="60.5">10</text>
<text transform="translate(187.21,728.40) scale(0.9950,1)" font-size="39.5">-3</text>
<text transform="translate(132.53,983.70) scale(0.9094,1)" font-size="60.5">10</text>
<text transform="translate(187.19,956.60) scale(1.0084,1)" font-size="39.5">-5</text>
<text transform="translate(249.39,1032.60) scale(1.0252,1)" font-size="60.5">0</text>
<text transform="translate(462.64,1032.60) scale(0.9630,1)" font-size="60.5">1000</text>
<text transform="translate(769.45,1032.60) scale(0.9983,1)" font-size="60.5">2000</text>
<text transform="translate(1076.50,1032.60) scale(1.0013,1)" font-size="60.5">3000</text>
<text transform="translate(1389.76,1032.60) scale(0.9957,1)" font-size="60.5">4000</text>
<text transform="translate(1697.22,1032.60) scale(0.9952,1)" font-size="60.5">5000</text>
<text transform="translate(883.97,1110.80) scale(0.9883,1)" font-size="60.5">Frequency(Hz)</text>
<text transform="translate(1381.21,144.70) scale(0.9710,1)" font-size="60.5">ABH beam</text>
<text transform="translate(1373.87,220.80) scale(0.9780,1)" font-size="60.5">uniform beam</text>
<text transform="translate(73.50,745.50) rotate(-90) scale(0.9717,1)" font-size="60.5">Harvested power(mW)</text>
</g>
<line x1="1169.3" y1="124.9" x2="1203.7" y2="124.9" stroke="#0000ff" stroke-opacity="0.3" stroke-width="6.6"/>
<line x1="1170.3" y1="124.9" x2="1202.7" y2="124.9" stroke="#0000ff" stroke-width="4.3"/>
<line x1="1218" y1="124.9" x2="1249.8" y2="124.9" stroke="#0000ff" stroke-opacity="0.3" stroke-width="6.6"/>
<line x1="1219" y1="124.9" x2="1248.8" y2="124.9" stroke="#0000ff" stroke-width="4.3"/>
<line x1="1264" y1="124.9" x2="1296" y2="124.9" stroke="#0000ff" stroke-opacity="0.3" stroke-width="6.6"/>
<line x1="1265" y1="124.9" x2="1295" y2="124.9" stroke="#0000ff" stroke-width="4.3"/>
<line x1="1310.3" y1="124.9" x2="1328.4" y2="124.9" stroke="#0000ff" stroke-opacity="0.3" stroke-width="6.6"/>
<line x1="1311.3" y1="124.9" x2="1327.4" y2="124.9" stroke="#0000ff" stroke-width="4.3"/>
<line x1="1169.3" y1="208.7" x2="1328.4" y2="208.7" stroke="#ff0000" stroke-opacity="0.3" stroke-width="6.6"/>
<line x1="1170.3" y1="208.7" x2="1327.4" y2="208.7" stroke="#ff0000" stroke-width="4.3"/>
</svg>
</body>
</html>
